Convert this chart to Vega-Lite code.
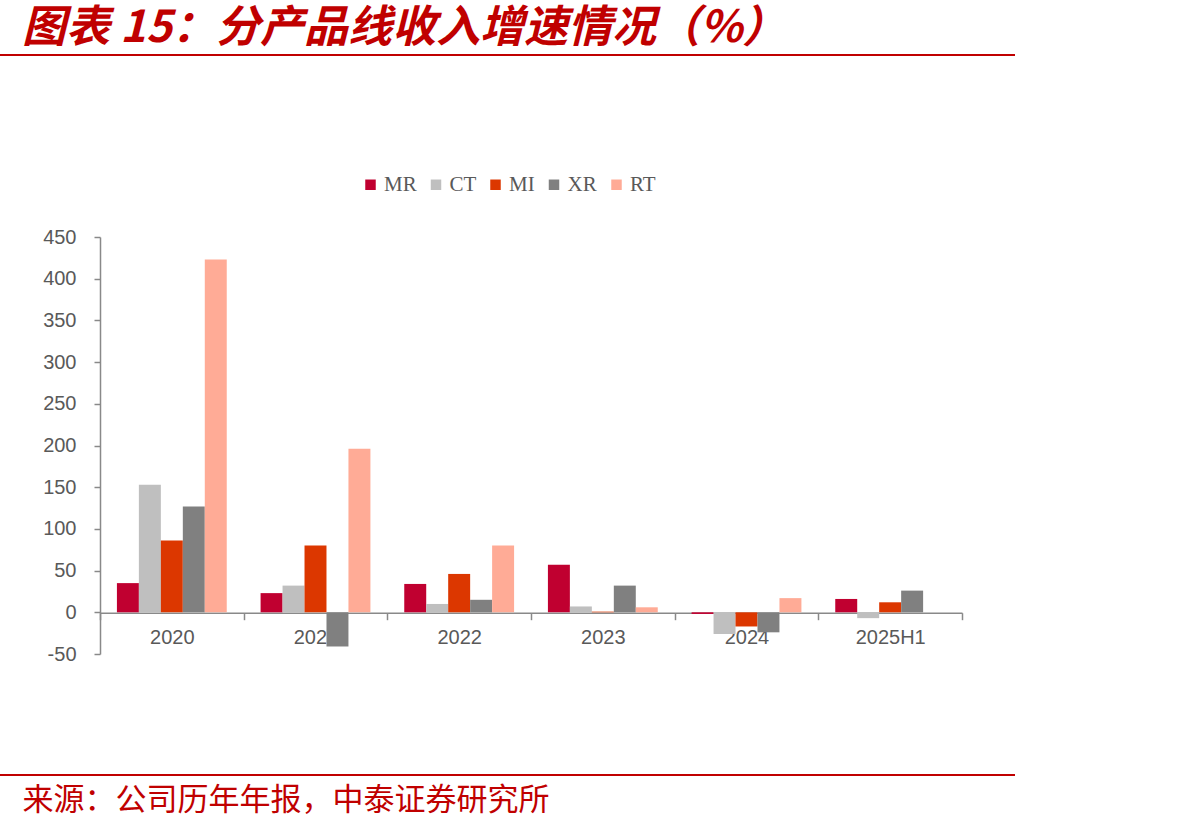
{
  "$schema": "https://vega.github.io/schema/vega-lite/v6.json",
  "width": 1015,
  "height": 720,
  "autosize": {"type": "none"},
  "padding": {"left": 0, "top": 55, "right": 177, "bottom": 56},
  "background": "#ffffff",
  "view": {"stroke": "#C00000", "strokeWidth": 2, "strokeDash": [1015, 720], "fill": null},
  "title": {
    "text": "图表 15：分产品线收入增速情况（%）",
    "anchor": "start",
    "frame": "group",
    "orient": "top",
    "dx": 22,
    "offset": -31,
    "baseline": "alphabetic",
    "font": "Noto Sans CJK SC",
    "fontSize": 44,
    "fontStyle": "italic",
    "fontWeight": "bold",
    "color": "#C00000"
  },
  "data": {
    "values": [
      {"year": "2020", "series": "MR", "value": 35},
      {"year": "2020", "series": "CT", "value": 153},
      {"year": "2020", "series": "MI", "value": 86},
      {"year": "2020", "series": "XR", "value": 127},
      {"year": "2020", "series": "RT", "value": 423},
      {"year": "2021", "series": "MR", "value": 23},
      {"year": "2021", "series": "CT", "value": 32},
      {"year": "2021", "series": "MI", "value": 80},
      {"year": "2021", "series": "XR", "value": -41},
      {"year": "2021", "series": "RT", "value": 196},
      {"year": "2022", "series": "MR", "value": 34},
      {"year": "2022", "series": "CT", "value": 10},
      {"year": "2022", "series": "MI", "value": 46},
      {"year": "2022", "series": "XR", "value": 15},
      {"year": "2022", "series": "RT", "value": 80},
      {"year": "2023", "series": "MR", "value": 57},
      {"year": "2023", "series": "CT", "value": 7},
      {"year": "2023", "series": "MI", "value": 0.8},
      {"year": "2023", "series": "XR", "value": 32},
      {"year": "2023", "series": "RT", "value": 6},
      {"year": "2024", "series": "MR", "value": -2},
      {"year": "2024", "series": "CT", "value": -26},
      {"year": "2024", "series": "MI", "value": -17},
      {"year": "2024", "series": "XR", "value": -24},
      {"year": "2024", "series": "RT", "value": 17},
      {"year": "2025H1", "series": "MR", "value": 16},
      {"year": "2025H1", "series": "CT", "value": -7},
      {"year": "2025H1", "series": "MI", "value": 12},
      {"year": "2025H1", "series": "XR", "value": 26}
    ]
  },
  "mark": {"type": "bar", "strokeWidth": 0},
  "encoding": {
    "x": {
      "field": "year",
      "type": "nominal",
      "sort": ["2020", "2021", "2022", "2023", "2024", "2025H1"],
      "scale": {"range": [100, 962], "paddingInner": 0, "paddingOuter": 0},
      "axis": {
        "orient": "bottom",
        "offset": -162.3,
        "labelAngle": 0,
        "tickBand": "extent",
        "tickSize": 7,
        "tickColor": "#898989",
        "tickWidth": 1.5,
        "domainColor": "#898989",
        "domainWidth": 1.5,
        "labelFont": "Liberation Sans",
        "labelFontSize": 20,
        "labelColor": "#595959",
        "labelPadding": 8,
        "title": "来源：公司历年年报，中泰证券研究所",
        "titleX": 22,
        "titleY": 188,
        "titleAlign": "left",
        "titleAnchor": "start",
        "titleBaseline": "middle",
        "titleFont": "Noto Sans CJK SC",
        "titleFontSize": 31,
        "titleFontWeight": "normal",
        "titleColor": "#C00000"
      }
    },
    "xOffset": {
      "field": "series",
      "type": "nominal",
      "sort": ["MR", "CT", "MI", "XR", "RT"],
      "scale": {"domain": ["MR", "CT", "MI", "XR", "RT"], "paddingInner": 0, "paddingOuter": 0.77}
    },
    "y": {
      "field": "value",
      "type": "quantitative",
      "scale": {"domain": [-50, 450], "range": [599, 182], "nice": false, "zero": false},
      "axis": {
        "orient": "left",
        "offset": -100,
        "values": [-50, 0, 50, 100, 150, 200, 250, 300, 350, 400, 450],
        "labelExpr": "'' + datum.value",
        "grid": false,
        "tickSize": 6,
        "tickColor": "#898989",
        "tickWidth": 1.5,
        "domainColor": "#898989",
        "domainWidth": 1.5,
        "labelFont": "Liberation Sans",
        "labelFontSize": 20,
        "labelColor": "#595959",
        "labelPadding": 18,
        "title": null
      }
    },
    "color": {
      "field": "series",
      "type": "nominal",
      "sort": ["MR", "CT", "MI", "XR", "RT"],
      "scale": {
        "domain": ["MR", "CT", "MI", "XR", "RT"],
        "range": ["#C00030", "#BFBFBF", "#DC3700", "#808080", "#FFAB96"]
      },
      "legend": {
        "orient": "none",
        "legendX": 360,
        "legendY": 119,
        "direction": "horizontal",
        "title": null,
        "symbolType": "square",
        "symbolSize": 110,
        "symbolStrokeWidth": 0,
        "labelFont": "Liberation Serif",
        "labelFontSize": 21,
        "labelColor": "#595959",
        "labelOffset": 3,
        "columnPadding": 8.5
      }
    }
  }
}
